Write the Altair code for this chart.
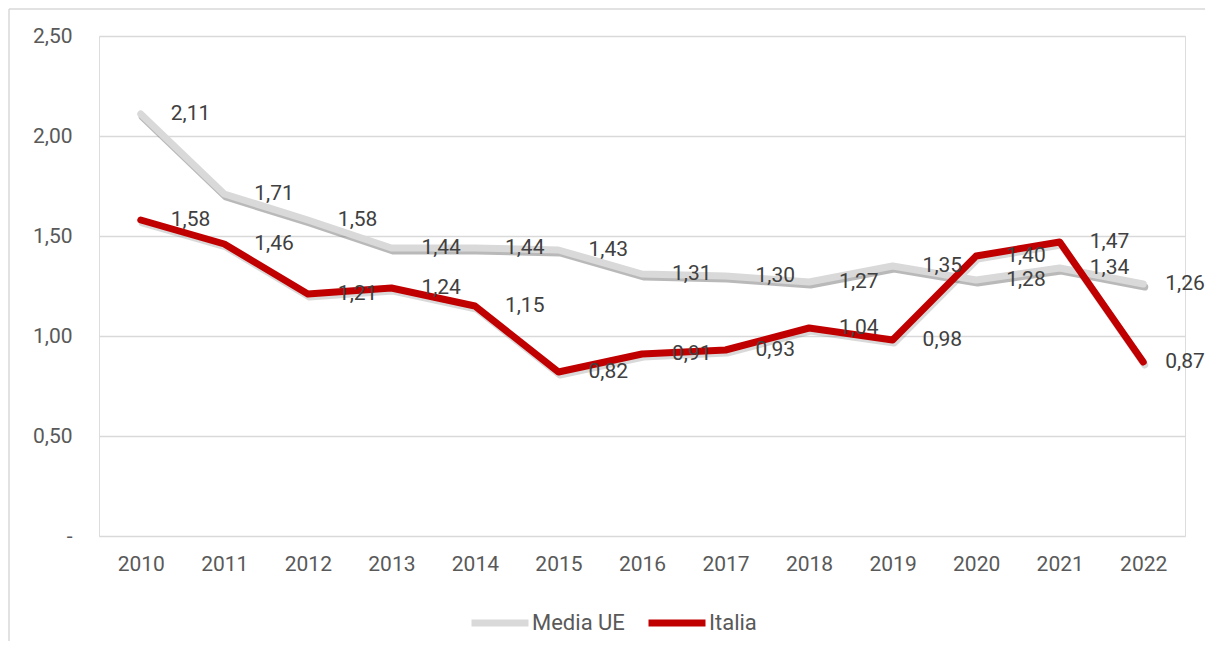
import altair as alt
import pandas as pd

years = ["2010", "2011", "2012", "2013", "2014", "2015", "2016",
         "2017", "2018", "2019", "2020", "2021", "2022"]
media_ue = [2.11, 1.71, 1.58, 1.44, 1.44, 1.43, 1.31, 1.30, 1.27, 1.35, 1.28, 1.34, 1.26]
italia = [1.58, 1.46, 1.21, 1.24, 1.15, 0.82, 0.91, 0.93, 1.04, 0.98, 1.40, 1.47, 0.87]
series_names = ["Media UE", "Italia"]
series_colors = ["#D9D9D9", "#C00000"]
y_ticks = [0, 0.5, 1.0, 1.5, 2.0, 2.5]

rows = []
for name, vals in zip(series_names, [media_ue, italia]):
    for yr, v in zip(years, vals):
        rows.append({"year": yr, "series": name, "value": v})
df = pd.DataFrame(rows)

FONT = "Roboto"
W, H = 1086, 500

x_enc = alt.X("year:O", title=None,
              axis=alt.Axis(labelAngle=0, ticks=False, domain=False, grid=False,
                            labelPadding=17, labelFontSize=21, labelColor="#595959",
                            labelFont=FONT))
y_enc = alt.Y("value:Q", title=None,
              scale=alt.Scale(domain=[0, 2.5]),
              axis=alt.Axis(values=y_ticks, ticks=False, domain=False,
                            gridColor="#D9D9D9", gridWidth=1.5,
                            labelPadding=27, labelFontSize=21, labelColor="#595959",
                            labelFont=FONT,
                            labelExpr="datum.value == 0 ? '-\u00a0\u00a0' : replace(format(datum.value, '.2f'), '.', ',')"))

color_enc = alt.Color("series:N",
                      scale=alt.Scale(domain=series_names, range=series_colors),
                      legend=alt.Legend(title=None, orient="none", direction="horizontal",
                                        legendX=369, legendY=555,
                                        symbolType="stroke", symbolSize=3249,
                                        symbolStrokeWidth=7, labelFontSize=22,
                                        labelFont=FONT, labelColor="#595959",
                                        labelOffset=0, columnPadding=9))

base = alt.Chart(df)

shadow_ue = base.transform_filter(alt.datum.series == "Media UE").mark_line(
    strokeWidth=7, xOffset=1.5, yOffset=3, color="#808080",
    opacity=0.55, strokeCap="round", strokeJoin="round").encode(x=x_enc, y=y_enc)

shadow_it = base.transform_filter(alt.datum.series == "Italia").mark_line(
    strokeWidth=7, xOffset=1.5, yOffset=3, color="#808080",
    opacity=0.3, strokeCap="round", strokeJoin="round").encode(x=x_enc, y=y_enc)

line_ue = base.transform_filter(alt.datum.series == "Media UE").mark_line(
    strokeWidth=7, strokeCap="round", strokeJoin="round").encode(
    x=x_enc, y=y_enc, color=color_enc)

line_it = base.transform_filter(alt.datum.series == "Italia").mark_line(
    strokeWidth=7, strokeCap="round", strokeJoin="round").encode(
    x=x_enc, y=y_enc, color=color_enc)

lab = base.transform_calculate(
    label="replace(format(datum.value, '.2f'), '.', ',')")

text_main = lab.transform_filter(alt.datum.year != "2022").mark_text(
    align="left", baseline="middle", dx=30, fontSize=21, font=FONT, color="#404040").encode(
    x=x_enc, y=y_enc, text="label:N")

text_last = lab.transform_filter(alt.datum.year == "2022").mark_text(
    align="left", baseline="middle", dx=22, fontSize=21, font=FONT, color="#404040").encode(
    x=x_enc, y=y_enc, text="label:N")

frame_df = pd.DataFrame({"k": [0]})
frame_top = alt.Chart(frame_df).mark_rule(color="#D9D9D9", strokeWidth=1.5).encode(
    x=alt.value(-90), x2=alt.value(W + 20), y=alt.value(-27), y2=alt.value(-27))
frame_left = alt.Chart(frame_df).mark_rule(color="#D9D9D9", strokeWidth=1.5).encode(
    x=alt.value(-90), x2=alt.value(-90), y=alt.value(-27), y2=alt.value(H + 105))

chart = alt.layer(frame_top, frame_left, shadow_ue, shadow_it, line_ue, line_it,
                  text_main, text_last).properties(
    width=W, height=H,
    autosize=alt.AutoSizeParams(type="none"),
    padding={"left": 91, "top": 28, "right": 20, "bottom": 105},
).configure_view(stroke=None).configure(background="white")

chart.save("out.html", embed_options={"renderer": "svg", "actions": False})
